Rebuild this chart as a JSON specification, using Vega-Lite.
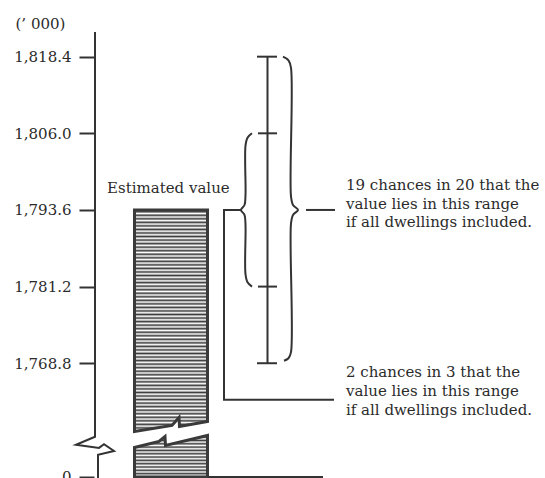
{
  "$schema": "https://vega.github.io/schema/vega-lite/v6.json",
  "width": 451,
  "height": 478,
  "autosize": {"type": "none"},
  "padding": {"left": 94, "top": 0, "right": 0, "bottom": 0},
  "background": "#ffffff",
  "config": {"view": {"stroke": null}},
  "encoding": {
    "x": {"field": "x", "type": "quantitative", "scale": {"domain": [94, 545], "nice": false, "zero": false}, "axis": null},
    "y": {
      "field": "y", "type": "quantitative",
      "scale": {"domain": [1750.23, 1827.57], "nice": false, "zero": false},
      "axis": {
        "title": "(’ 000)",
        "values": [1750.4, 1768.8, 1781.2, 1793.6, 1806.0, 1818.4],
        "labelExpr": "datum.value < 1760 ? '0' : format(datum.value, ',.1f')",
        "domain": false, "grid": false, "ticks": true,
        "tickSize": 15, "tickWidth": 2, "tickColor": "#333333",
        "labelFont": "DejaVu Serif", "labelFontSize": 15, "labelColor": "#2b2b2b",
        "labelPadding": 8, "labelOverlap": false, "labelBound": false, "labelFlush": false,
        "titleFont": "DejaVu Serif", "titleFontSize": 15, "titleFontWeight": "normal", "titleColor": "#2b2b2b",
        "titleAngle": 0, "titleAlign": "left", "titleBaseline": "alphabetic", "titleX": -79, "titleY": 28
      }
    }
  },
  "layer": [
    {
      "data": {"values": [
        {"x": 134.5, "y": 1793.6, "y2": 1757.76},
        {"x": 172, "y": 1793.6, "y2": 1758.73},
        {"x": 179, "y": 1793.6, "y2": 1760.02},
        {"x": 179.5, "y": 1793.6, "y2": 1758.57},
        {"x": 207.5, "y": 1793.6, "y2": 1759.38}
      ]},
      "mark": {"type": "area", "orient": "vertical", "stroke": "#3a3a3a", "strokeWidth": 3, "strokeJoin": "miter",
        "fill": {"gradient": "linear", "x1": 0, "y1": 0, "x2": 0, "y2": 1, "stops": [
          {"offset": 0, "color": "#fff"}, {"offset": 0.008, "color": "#3c3c3c"}, {"offset": 0.016, "color": "#fff"}, {"offset": 0.024, "color": "#3c3c3c"},
          {"offset": 0.032, "color": "#fff"}, {"offset": 0.04, "color": "#3c3c3c"}, {"offset": 0.048, "color": "#fff"}, {"offset": 0.056, "color": "#3c3c3c"},
          {"offset": 0.064, "color": "#fff"}, {"offset": 0.072, "color": "#3c3c3c"}, {"offset": 0.08, "color": "#fff"}, {"offset": 0.088, "color": "#3c3c3c"},
          {"offset": 0.096, "color": "#fff"}, {"offset": 0.104, "color": "#3c3c3c"}, {"offset": 0.112, "color": "#fff"}, {"offset": 0.12, "color": "#3c3c3c"},
          {"offset": 0.128, "color": "#fff"}, {"offset": 0.136, "color": "#3c3c3c"}, {"offset": 0.144, "color": "#fff"}, {"offset": 0.152, "color": "#3c3c3c"},
          {"offset": 0.16, "color": "#fff"}, {"offset": 0.168, "color": "#3c3c3c"}, {"offset": 0.176, "color": "#fff"}, {"offset": 0.184, "color": "#3c3c3c"},
          {"offset": 0.192, "color": "#fff"}, {"offset": 0.2, "color": "#3c3c3c"}, {"offset": 0.208, "color": "#fff"}, {"offset": 0.216, "color": "#3c3c3c"},
          {"offset": 0.224, "color": "#fff"}, {"offset": 0.232, "color": "#3c3c3c"}, {"offset": 0.24, "color": "#fff"}, {"offset": 0.248, "color": "#3c3c3c"},
          {"offset": 0.256, "color": "#fff"}, {"offset": 0.264, "color": "#3c3c3c"}, {"offset": 0.272, "color": "#fff"}, {"offset": 0.28, "color": "#3c3c3c"},
          {"offset": 0.288, "color": "#fff"}, {"offset": 0.296, "color": "#3c3c3c"}, {"offset": 0.304, "color": "#fff"}, {"offset": 0.312, "color": "#3c3c3c"},
          {"offset": 0.32, "color": "#fff"}, {"offset": 0.328, "color": "#3c3c3c"}, {"offset": 0.336, "color": "#fff"}, {"offset": 0.344, "color": "#3c3c3c"},
          {"offset": 0.352, "color": "#fff"}, {"offset": 0.36, "color": "#3c3c3c"}, {"offset": 0.368, "color": "#fff"}, {"offset": 0.376, "color": "#3c3c3c"},
          {"offset": 0.384, "color": "#fff"}, {"offset": 0.392, "color": "#3c3c3c"}, {"offset": 0.4, "color": "#fff"}, {"offset": 0.408, "color": "#3c3c3c"},
          {"offset": 0.416, "color": "#fff"}, {"offset": 0.424, "color": "#3c3c3c"}, {"offset": 0.432, "color": "#fff"}, {"offset": 0.44, "color": "#3c3c3c"},
          {"offset": 0.448, "color": "#fff"}, {"offset": 0.456, "color": "#3c3c3c"}, {"offset": 0.464, "color": "#fff"}, {"offset": 0.472, "color": "#3c3c3c"},
          {"offset": 0.48, "color": "#fff"}, {"offset": 0.488, "color": "#3c3c3c"}, {"offset": 0.496, "color": "#fff"}, {"offset": 0.504, "color": "#3c3c3c"},
          {"offset": 0.512, "color": "#fff"}, {"offset": 0.52, "color": "#3c3c3c"}, {"offset": 0.528, "color": "#fff"}, {"offset": 0.536, "color": "#3c3c3c"},
          {"offset": 0.544, "color": "#fff"}, {"offset": 0.552, "color": "#3c3c3c"}, {"offset": 0.56, "color": "#fff"}, {"offset": 0.568, "color": "#3c3c3c"},
          {"offset": 0.576, "color": "#fff"}, {"offset": 0.584, "color": "#3c3c3c"}, {"offset": 0.592, "color": "#fff"}, {"offset": 0.6, "color": "#3c3c3c"},
          {"offset": 0.608, "color": "#fff"}, {"offset": 0.616, "color": "#3c3c3c"}, {"offset": 0.624, "color": "#fff"}, {"offset": 0.632, "color": "#3c3c3c"},
          {"offset": 0.64, "color": "#fff"}, {"offset": 0.648, "color": "#3c3c3c"}, {"offset": 0.656, "color": "#fff"}, {"offset": 0.664, "color": "#3c3c3c"},
          {"offset": 0.672, "color": "#fff"}, {"offset": 0.68, "color": "#3c3c3c"}, {"offset": 0.688, "color": "#fff"}, {"offset": 0.696, "color": "#3c3c3c"},
          {"offset": 0.704, "color": "#fff"}, {"offset": 0.712, "color": "#3c3c3c"}, {"offset": 0.72, "color": "#fff"}, {"offset": 0.728, "color": "#3c3c3c"},
          {"offset": 0.736, "color": "#fff"}, {"offset": 0.744, "color": "#3c3c3c"}, {"offset": 0.752, "color": "#fff"}, {"offset": 0.76, "color": "#3c3c3c"},
          {"offset": 0.768, "color": "#fff"}, {"offset": 0.776, "color": "#3c3c3c"}, {"offset": 0.784, "color": "#fff"}, {"offset": 0.792, "color": "#3c3c3c"},
          {"offset": 0.8, "color": "#fff"}, {"offset": 0.808, "color": "#3c3c3c"}, {"offset": 0.816, "color": "#fff"}, {"offset": 0.824, "color": "#3c3c3c"},
          {"offset": 0.832, "color": "#fff"}, {"offset": 0.84, "color": "#3c3c3c"}, {"offset": 0.848, "color": "#fff"}, {"offset": 0.856, "color": "#3c3c3c"},
          {"offset": 0.864, "color": "#fff"}, {"offset": 0.872, "color": "#3c3c3c"}, {"offset": 0.88, "color": "#fff"}, {"offset": 0.888, "color": "#3c3c3c"},
          {"offset": 0.896, "color": "#fff"}, {"offset": 0.904, "color": "#3c3c3c"}, {"offset": 0.912, "color": "#fff"}, {"offset": 0.92, "color": "#3c3c3c"},
          {"offset": 0.928, "color": "#fff"}, {"offset": 0.936, "color": "#3c3c3c"}, {"offset": 0.944, "color": "#fff"}, {"offset": 0.952, "color": "#3c3c3c"},
          {"offset": 0.96, "color": "#fff"}, {"offset": 0.968, "color": "#3c3c3c"}, {"offset": 0.976, "color": "#fff"}, {"offset": 0.984, "color": "#3c3c3c"},
          {"offset": 0.992, "color": "#fff"}, {"offset": 1, "color": "#3c3c3c"}
        ]}},
      "encoding": {"y2": {"field": "y2"}}
    },
    {
      "data": {"values": [
        {"x": 134.5, "y": 1750.4, "y2": 1755.17},
        {"x": 159, "y": 1750.4, "y2": 1756.14},
        {"x": 165, "y": 1750.4, "y2": 1756.95},
        {"x": 165.5, "y": 1750.4, "y2": 1755.49},
        {"x": 207.5, "y": 1750.4, "y2": 1757.11}
      ]},
      "mark": {"type": "area", "orient": "vertical", "stroke": "#3a3a3a", "strokeWidth": 3, "strokeJoin": "miter",
        "fill": {"gradient": "linear", "x1": 0, "y1": 0, "x2": 0, "y2": 1, "stops": [
          {"offset": 0, "color": "#fff"}, {"offset": 0.04, "color": "#3c3c3c"}, {"offset": 0.08, "color": "#fff"}, {"offset": 0.12, "color": "#3c3c3c"},
          {"offset": 0.16, "color": "#fff"}, {"offset": 0.2, "color": "#3c3c3c"}, {"offset": 0.24, "color": "#fff"}, {"offset": 0.28, "color": "#3c3c3c"},
          {"offset": 0.32, "color": "#fff"}, {"offset": 0.36, "color": "#3c3c3c"}, {"offset": 0.4, "color": "#fff"}, {"offset": 0.44, "color": "#3c3c3c"},
          {"offset": 0.48, "color": "#fff"}, {"offset": 0.52, "color": "#3c3c3c"}, {"offset": 0.56, "color": "#fff"}, {"offset": 0.6, "color": "#3c3c3c"},
          {"offset": 0.64, "color": "#fff"}, {"offset": 0.68, "color": "#3c3c3c"}, {"offset": 0.72, "color": "#fff"}, {"offset": 0.76, "color": "#3c3c3c"},
          {"offset": 0.8, "color": "#fff"}, {"offset": 0.84, "color": "#3c3c3c"}, {"offset": 0.88, "color": "#fff"}, {"offset": 0.92, "color": "#3c3c3c"},
          {"offset": 0.96, "color": "#fff"}, {"offset": 1, "color": "#3c3c3c"}
        ]}},
      "encoding": {"y2": {"field": "y2"}}
    },
    {
      "data": {"values": [
        {"x": 267.5, "x2": 267.5, "y": 1818.4, "y2": 1768.8},
        {"x": 257, "x2": 277, "y": 1818.4, "y2": 1818.4},
        {"x": 257, "x2": 277, "y": 1768.8, "y2": 1768.8},
        {"x": 258, "x2": 277, "y": 1806.0, "y2": 1806.0},
        {"x": 258, "x2": 277, "y": 1781.2, "y2": 1781.2},
        {"x": 306, "x2": 335, "y": 1793.6, "y2": 1793.6},
        {"x": 207.5, "x2": 323, "y": 1750.4, "y2": 1750.4}
      ]},
      "mark": {"type": "rule", "color": "#333333", "strokeWidth": 2},
      "encoding": {"x2": {"field": "x2"}, "y2": {"field": "y2"}}
    },
    {
      "data": {"values": [
        {"id": "axis", "i": 0, "x": 95, "y": 1822.4},
        {"id": "axis", "i": 1, "x": 95, "y": 1756.9},
        {"id": "axis", "i": 2, "x": 76, "y": 1755.6},
        {"id": "axis", "i": 3, "x": 99, "y": 1755.1},
        {"id": "axis", "i": 4, "x": 104, "y": 1755.7},
        {"id": "axis", "i": 5, "x": 114, "y": 1754.6},
        {"id": "axis", "i": 6, "x": 98, "y": 1754.0},
        {"id": "axis", "i": 7, "x": 98, "y": 1750.2},
        {"id": "conn", "i": 0, "x": 241, "y": 1793.6},
        {"id": "conn", "i": 1, "x": 224, "y": 1793.6},
        {"id": "conn", "i": 2, "x": 224, "y": 1762.9},
        {"id": "conn", "i": 3, "x": 334, "y": 1762.9}
      ]},
      "mark": {"type": "line", "color": "#333333", "strokeWidth": 2, "strokeJoin": "miter"},
      "encoding": {"detail": {"field": "id"}, "order": {"field": "i", "type": "quantitative"}}
    },
    {
      "data": {"values": [
        {"id": "big", "i": 0, "x": 283, "y": 1818.4},
        {"id": "big", "i": 1, "x": 288.5, "y": 1817.8},
        {"id": "big", "i": 2, "x": 291, "y": 1816.6},
        {"id": "big", "i": 3, "x": 291, "y": 1795.8},
        {"id": "big", "i": 4, "x": 293, "y": 1794.4},
        {"id": "big", "i": 5, "x": 298, "y": 1793.6},
        {"id": "big", "i": 6, "x": 293, "y": 1792.8},
        {"id": "big", "i": 7, "x": 291, "y": 1791.4},
        {"id": "big", "i": 8, "x": 291, "y": 1770.6},
        {"id": "big", "i": 9, "x": 288.5, "y": 1769.6},
        {"id": "big", "i": 10, "x": 284, "y": 1769.2},
        {"id": "small", "i": 0, "x": 252, "y": 1806.0},
        {"id": "small", "i": 1, "x": 247.5, "y": 1805.3},
        {"id": "small", "i": 2, "x": 245.5, "y": 1804.0},
        {"id": "small", "i": 3, "x": 245.5, "y": 1796.0},
        {"id": "small", "i": 4, "x": 244.5, "y": 1794.4},
        {"id": "small", "i": 5, "x": 241, "y": 1793.6},
        {"id": "small", "i": 6, "x": 244.5, "y": 1792.8},
        {"id": "small", "i": 7, "x": 245.5, "y": 1791.2},
        {"id": "small", "i": 8, "x": 245.5, "y": 1783.2},
        {"id": "small", "i": 9, "x": 247.5, "y": 1781.9},
        {"id": "small", "i": 10, "x": 252, "y": 1781.2}
      ]},
      "mark": {"type": "line", "color": "#333333", "strokeWidth": 2, "interpolate": "catmull-rom"},
      "encoding": {"detail": {"field": "id"}, "order": {"field": "i", "type": "quantitative"}}
    },
    {
      "data": {"values": [
        {"x": 107, "y": 1796.3, "text": "Estimated value"},
        {"x": 346, "y": 1796.8, "text": "19 chances in 20 that the"},
        {"x": 346, "y": 1793.8, "text": "value lies in this range"},
        {"x": 346, "y": 1790.8, "text": "if all dwellings included."},
        {"x": 346, "y": 1766.6, "text": "2 chances in 3 that the"},
        {"x": 346, "y": 1763.5, "text": "value lies in this range"},
        {"x": 346, "y": 1760.5, "text": "if all dwellings included."}
      ]},
      "mark": {"type": "text", "align": "left", "baseline": "alphabetic", "font": "DejaVu Serif", "fontSize": 15, "color": "#2b2b2b"},
      "encoding": {"text": {"field": "text"}}
    }
  ]
}
